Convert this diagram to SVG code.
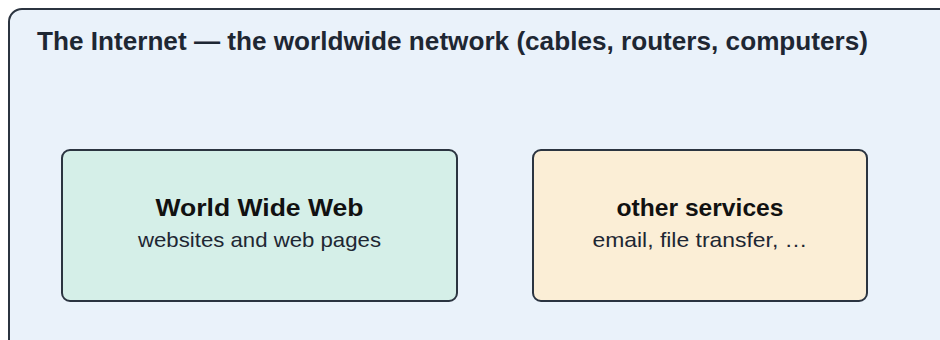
<svg xmlns="http://www.w3.org/2000/svg" width="940" height="340" viewBox="0 0 940 340">
<style>
.box{stroke:#2b3440;stroke-width:2}
.t{font-family:"Liberation Sans",Arial,sans-serif;fill:#1e2733;text-anchor:middle}
.b{font-weight:bold}
</style>
<rect width="940" height="340" fill="#ffffff"/>
<g id="internet">
<rect class="box" x="9" y="9" width="960" height="360" rx="13" fill="#eaf2fa"/>
<text class="t b" x="37" y="50" font-size="25" textLength="831" lengthAdjust="spacingAndGlyphs" style="text-anchor:start">The Internet — the worldwide network (cables, routers, computers)</text>
</g>
<g id="www">
<rect class="box" x="62" y="150" width="395" height="151" rx="8" fill="#d5efe8"/>
<text class="t b" x="259.5" y="216" font-size="24" textLength="208" lengthAdjust="spacingAndGlyphs" style="fill:#111">World Wide Web</text>
<text class="t" x="259.5" y="247" font-size="21" textLength="243" lengthAdjust="spacingAndGlyphs">websites and web pages</text>
</g>
<g id="other">
<rect class="box" x="533" y="150" width="334" height="151" rx="8" fill="#fbeed6"/>
<text class="t b" x="700" y="216" font-size="24" textLength="167" lengthAdjust="spacingAndGlyphs" style="fill:#111">other services</text>
<text class="t" x="700" y="247" font-size="21" textLength="215" lengthAdjust="spacingAndGlyphs">email, file transfer, …</text>
</g>
<g id="connectors"/>
</svg>
